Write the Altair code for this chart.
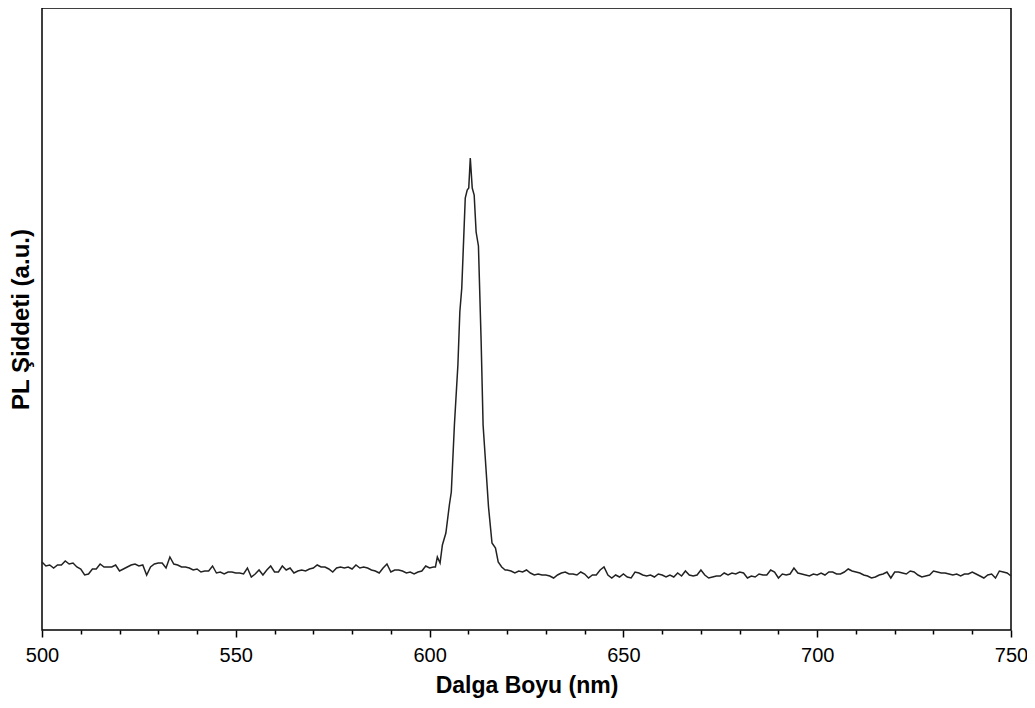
import altair as alt
import pandas as pd

# Wavelength grid (nm) and PL intensity (a.u.)
left_nm = list(range(500, 602))
left_int = [
    68, 64, 65, 62, 65, 65, 69, 66, 67, 63,
    61, 55, 56, 61, 61, 66, 63, 63, 63, 65,
    59, 61, 63, 65, 66, 64, 65, 55, 63, 66,
    67, 67, 62, 73, 66, 65, 63, 63, 62, 60,
    61, 58, 59, 59, 64, 57, 58, 56, 58, 58,
    57, 57, 56, 62, 53, 56, 60, 55, 60, 64,
    58, 58, 64, 60, 62, 57, 59, 60, 59, 61,
    62, 65, 63, 63, 61, 58, 62, 63, 62, 63,
    61, 65, 62, 63, 62, 60, 59, 57, 62, 66,
    58, 60, 60, 59, 57, 58, 56, 58, 59, 64,
    62, 63,
]

peak_nm = [601.5, 602.0, 602.7, 603.3, 604.2, 605.1, 605.6, 606.4, 607.3, 607.8,
           608.3, 609.2, 609.7, 610.1, 610.5, 611.0, 611.5, 612.0, 612.6, 613.3,
           613.8, 614.4, 615.2, 616.1, 617.0, 617.7, 618.6, 619.5]
peak_int = [63, 73, 67, 85, 97, 125, 138, 205, 265, 318,
            342, 432, 440, 442, 472, 442, 435, 398, 384, 288,
            205, 170, 123, 87, 82, 68, 63, 60]

right_nm = list(range(620, 751))
right_int = [
    60, 59, 57, 59, 58, 60, 57, 55, 56, 55,
    55, 54, 52, 55, 57, 58, 56, 56, 55, 58,
    56, 52, 55, 55, 60, 63, 55, 52, 55, 53,
    56, 53, 52, 58, 57, 55, 54, 55, 53, 56,
    55, 53, 55, 53, 57, 54, 59, 55, 54, 55,
    60, 55, 52, 53, 54, 54, 57, 55, 57, 56,
    58, 57, 52, 54, 53, 56, 55, 55, 60, 58,
    52, 56, 55, 56, 62, 57, 56, 55, 54, 56,
    55, 57, 55, 58, 58, 56, 56, 58, 61, 59,
    58, 57, 55, 54, 52, 53, 55, 56, 58, 52,
    58, 58, 57, 56, 59, 58, 55, 53, 54, 55,
    59, 58, 57, 57, 56, 55, 56, 54, 56, 56,
    58, 56, 54, 52, 55, 56, 52, 59, 58, 57,
    54,
]

x_tick_values = list(range(500, 751, 10))
x_title = "Dalga Boyu (nm)"
y_title = "PL Şiddeti (a.u.)"

df = pd.DataFrame({
    "wl": left_nm + peak_nm + right_nm,
    "I": left_int + peak_int + right_int,
})

FONT = "Liberation Sans"

chart = alt.Chart(df).mark_line(color="#222222", strokeWidth=1.5).encode(
    x=alt.X(
        "wl:Q",
        scale=alt.Scale(domain=[500, 750], nice=False, zero=False),
        axis=alt.Axis(
            title=x_title,
            values=x_tick_values,
            labelExpr="datum.value % 50 === 0 ? datum.label : ''",
            tickSize={"condition": {"test": "datum.value % 50 === 0", "value": 7}, "value": 4},
            tickColor="black",
            tickWidth=1.5,
            domain=False,
            grid=False,
            labelFont=FONT,
            labelFontSize=20,
            labelColor="black",
            labelPadding=8,
            labelFlush=False,
            titleFont=FONT,
            titleFontSize=23,
            titleFontWeight="bold",
            titleColor="black",
            titlePadding=9,
        ),
    ),
    y=alt.Y(
        "I:Q",
        scale=alt.Scale(domain=[0, 622], nice=False, zero=False),
        axis=alt.Axis(
            title=y_title,
            labels=False,
            ticks=False,
            domain=False,
            grid=False,
            titleFont=FONT,
            titleFontSize=24,
            titleFontWeight="bold",
            titleColor="black",
            titlePadding=9,
        ),
    ),
).properties(
    width=969,
    height=622,
    autosize=alt.AutoSizeParams(type="none"),
    padding={"left": 34, "top": 0, "right": 16, "bottom": 68},
).configure_view(
    stroke="black",
    strokeWidth=1.5,
)

chart.save("out.html", embed_options={"renderer": "svg", "actions": False})
